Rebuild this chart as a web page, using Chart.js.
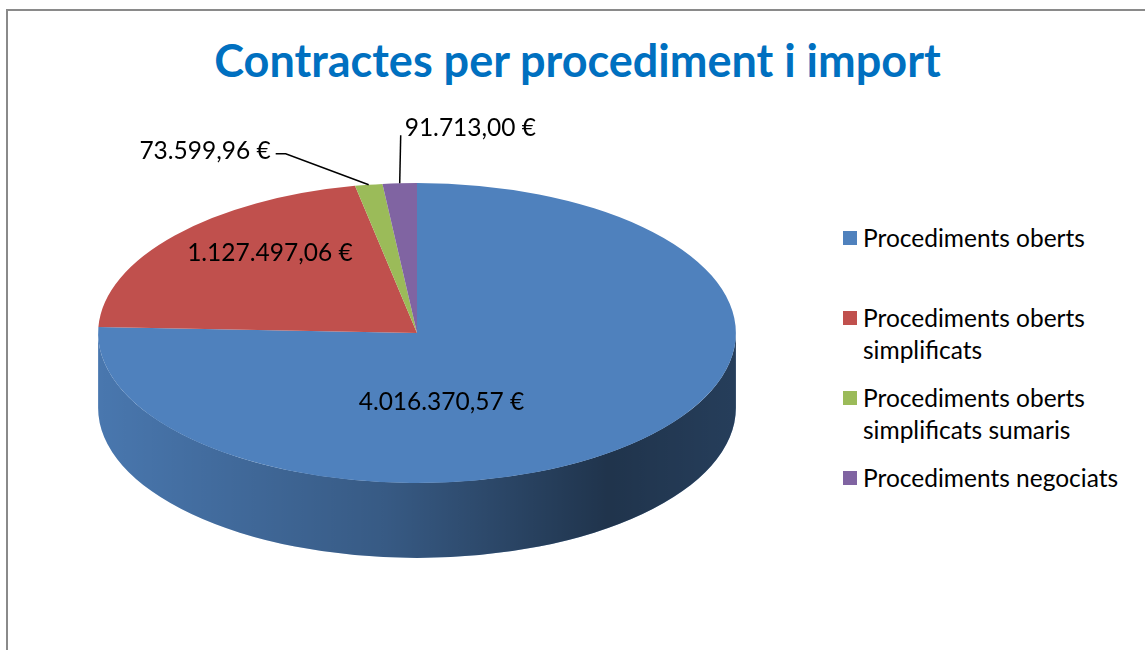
<!DOCTYPE html>
<html>
<head>
<meta charset="utf-8">
<script src="https://cdn.jsdelivr.net/npm/chart.js@4.4.0/dist/chart.umd.min.js"></script>
<style>
  body { margin: 0; background: #fff; }
  #wrap { position: relative; width: 1145px; height: 650px; overflow: hidden; font-family: Lato, "Open Sans", sans-serif; }
  #frame { position: absolute; left: 6px; top: 9px; width: 1200px; height: 700px; border-top: 2px solid #8a8a8a; border-left: 2px solid #8a8a8a; }
  #titulo { position: absolute; left: 5px; top: 30px; width: 1145px; text-align: center; color: #0070c0; font-weight: bold; font-size: 45px; line-height: 60px; }
  #grafic { position: absolute; left: 0; top: 0; }
  #llegenda { position: absolute; left: 843px; top: 222px; }
  .item { position: relative; height: 80px; }
  .item span.q { position: absolute; left: 0; top: 9px; width: 14px; height: 14px; }
  .item span.t { position: absolute; left: 20px; top: 0; width: 290px; font-size: 24.5px; line-height: 32px; color: #000; }
</style>
</head>
<body>
<div id="wrap">
  <div id="frame"></div>
  <div id="titulo">Contractes per procediment i import</div>
  <canvas id="grafic" width="834" height="650"></canvas>
  <div id="llegenda"></div>
</div>
<script>
const categories = ['Procediments oberts', 'Procediments oberts simplificats', 'Procediments oberts simplificats sumaris', 'Procediments negociats'];
const imports = [4016370.57, 1127497.06, 73599.96, 91713.00];
const colors = ['#4f81bd', '#c0504d', '#9bbb59', '#8064a2'];

const ASPECT = 321 / 151;   // amplada / alçada de l'el·lipse
const DEPTH = 75;           // gruix del pastís

function formatEuro(v) {
    const parts = v.toFixed(2).split('.');
    parts[0] = parts[0].replace(/\B(?=(\d{3})+(?!\d))/g, '.');
    return parts[0] + ',' + parts[1] + ' €';
}

// col·locació de les etiquetes (inside: desplaçament des del centre del sector; leader: línia guia)
const etiquetes = [
    {mode: 'inside', dx: -86, dy: 15},
    {mode: 'inside', dx: -26, dy: -31},
    {mode: 'leader', bx: -83, by: -31, hx: -10, tx: -5, ty: -3, align: 'right'},
    {mode: 'leader', bx: 1, by: -48, hx: 0, tx: 4, ty: -7, align: 'left'}
];

const pie3d = {
    id: 'pie3d',
    beforeDatasetsDraw(chart) {
        const ctx = chart.ctx;
        const arcs = chart.getDatasetMeta(0).data;
        const cx = arcs[0].x, cy = arcs[0].y;
        const ry = arcs[0].outerRadius, rx = ry * ASPECT;

        // cara lateral (només la part de davant, angles 0..PI)
        arcs.forEach((arc, i) => {
            const a1 = Math.max(arc.startAngle, 0);
            const a2 = Math.min(arc.endAngle, Math.PI);
            if (a2 <= a1) return;
            ctx.save();
            ctx.beginPath();
            ctx.ellipse(cx, cy, rx, ry, 0, a1, a2);
            ctx.lineTo(cx + rx * Math.cos(a2), cy + DEPTH + ry * Math.sin(a2));
            ctx.ellipse(cx, cy + DEPTH, rx, ry, 0, a2, a1, true);
            ctx.closePath();
            ctx.fillStyle = colors[i];
            ctx.fill();
            const g = ctx.createLinearGradient(cx - rx, 0, cx + rx, 0);
            g.addColorStop(0, 'rgba(0,0,0,0.08)');
            g.addColorStop(0.45, 'rgba(0,0,0,0.3)');
            g.addColorStop(0.8, 'rgba(0,0,0,0.6)');
            g.addColorStop(1, 'rgba(0,0,0,0.52)');
            ctx.fillStyle = g;
            ctx.fill();
            ctx.restore();
        });

        ctx.save();
        ctx.translate(cx, cy);
        ctx.scale(ASPECT, 1);
        ctx.translate(-cx, -cy);
    },
    afterDatasetsDraw(chart) {
        const ctx = chart.ctx;
        ctx.restore();
        const arcs = chart.getDatasetMeta(0).data;
        const cx = arcs[0].x, cy = arcs[0].y;
        const ry = arcs[0].outerRadius, rx = ry * ASPECT;

        ctx.save();
        ctx.font = '24.5px Lato, "Open Sans", sans-serif';
        ctx.fillStyle = '#000';
        ctx.strokeStyle = '#000';
        ctx.lineWidth = 1.5;
        ctx.textBaseline = 'middle';
        arcs.forEach((arc, i) => {
            const mid = (arc.startAngle + arc.endAngle) / 2;
            const text = formatEuro(imports[i]);
            const e = etiquetes[i];
            if (e.mode === 'inside') {
                const px = cx + Math.cos(mid) * rx * 0.5 + e.dx;
                const py = cy + Math.sin(mid) * ry * 0.5 + e.dy;
                ctx.textAlign = 'center';
                ctx.fillText(text, px, py);
            } else {
                const ax = cx + Math.cos(mid) * rx;
                const ay = cy + Math.sin(mid) * ry;
                const bx = ax + e.bx, by = ay + e.by;
                const hx = bx + e.hx;
                ctx.beginPath();
                ctx.moveTo(ax, ay);
                ctx.lineTo(bx, by);
                ctx.lineTo(hx, by);
                ctx.stroke();
                ctx.textAlign = e.align;
                ctx.fillText(text, hx + e.tx, by + e.ty);
            }
        });
        ctx.restore();
    }
};

new Chart(document.getElementById('grafic'), {
    type: 'pie',
    data: {
        labels: categories,
        datasets: [{
            data: imports,
            backgroundColor: colors,
            borderColor: colors,
            borderWidth: 0,
            clip: false
        }]
    },
    options: {
        responsive: false,
        animation: false,
        layout: { padding: { top: 183, bottom: 167, left: 0, right: 0 } },
        plugins: {
            legend: { display: false },
            tooltip: { enabled: false },
            title: { display: false }
        }
    },
    plugins: [pie3d]
});

// llegenda
const llegenda = document.getElementById('llegenda');
categories.forEach((cat, i) => {
    const item = document.createElement('div');
    item.className = 'item';
    item.innerHTML = '<span class="q" style="background:' + colors[i] + '"></span><span class="t">' + cat + '</span>';
    llegenda.appendChild(item);
});
</script>
</body>
</html>
